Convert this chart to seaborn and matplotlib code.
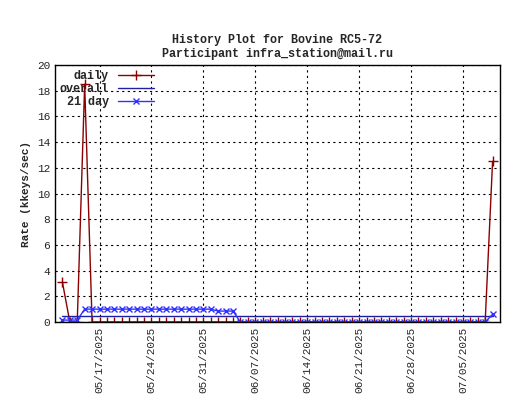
import matplotlib
matplotlib.use("Agg")
import matplotlib.pyplot as plt
import seaborn as sns
import pandas as pd
import numpy as np

dates = pd.date_range("2025-05-12", "2025-07-09", freq="D")
daily = [3.1, 0, 0, 18.5, 0] + [0]*53 + [12.5]
avg21 = [0.15, 0.15, 0.15, 1.0] + [1.0]*17 + [0.85]*3 + [0.0]*34 + [0.6]
overall = [0.45]*len(dates)
tick_dates = pd.date_range("2025-05-17", "2025-07-05", freq="7D")

df = pd.DataFrame({"date": dates, "daily": daily, "avg21": avg21, "overall": overall})

sns.set_style("white")
plt.rcParams['font.family'] = ['Liberation Mono', 'DejaVu Sans Mono']
fig = plt.figure(figsize=(5.2, 4.0), dpi=100)
ax = fig.add_axes([55/520, 1-322/400, 445/520, 257/400])

sns.lineplot(data=df, x="date", y="daily", ax=ax, color="#8b0000", lw=1, marker="+",
             markersize=7, markeredgewidth=1, markeredgecolor="#8b0000", label="daily")
sns.lineplot(data=df, x="date", y="overall", ax=ax, color="#2020a0", lw=1, label="overall")
sns.lineplot(data=df, x="date", y="avg21", ax=ax, color="#3030ff", lw=1, marker="x",
             markersize=5, markeredgewidth=1, markeredgecolor="#3030ff", label="21 day")

ax.set_xlim(pd.Timestamp("2025-05-11"), pd.Timestamp("2025-07-10"))
ax.set_ylim(0, 20)
ax.set_yticks(range(0, 21, 2))
ax.set_xticks(tick_dates)
ax.set_xticklabels([d.strftime("%m/%d/%Y") for d in tick_dates], rotation=90, fontsize=8)
ax.tick_params(axis='y', labelsize=8, direction='in', length=4)
ax.tick_params(axis='x', direction='in', length=4)
ax.grid(True, color="black", linestyle=(0, (2, 3)), lw=0.8)
for s in ax.spines.values():
    s.set_color("black"); s.set_linewidth(1)
ax.set_xlabel("")
ax.set_ylabel("Rate (kkeys/sec)", fontsize=8, fontweight="bold")
ax.set_title("History Plot for Bovine RC5-72\nParticipant infra_station@mail.ru", fontsize=8.5,
             fontweight="bold")
leg = ax.legend(loc="upper left", frameon=False, fontsize=8.5, markerfirst=False,
                handlelength=3, borderpad=0.2, labelspacing=0.1, borderaxespad=0.2)
for t in leg.get_texts():
    t.set_fontweight("bold")
fig.savefig("out.png", dpi=100)
